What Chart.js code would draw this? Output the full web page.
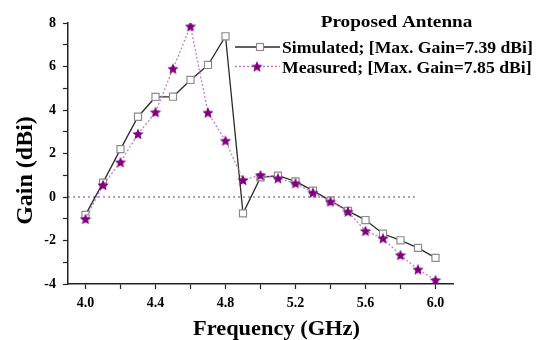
<!DOCTYPE html>
<html>
<head>
<meta charset="utf-8">
<script src="https://cdn.jsdelivr.net/npm/chart.js@4.4.1/dist/chart.umd.min.js"></script>
<style>
  html, body { margin: 0; padding: 0; background: #fff; }
  #wrap { width: 541px; height: 340px; }
</style>
</head>
<body>
<div id="wrap"><canvas id="gainChart" width="541" height="340"></canvas></div>
<script>
// Gain vs frequency, simulated and measured
const freqGHz = [4.0, 4.1, 4.2, 4.3, 4.4, 4.5, 4.6, 4.7, 4.8, 4.9, 5.0,
                 5.1, 5.2, 5.3, 5.4, 5.5, 5.6, 5.7, 5.8, 5.9, 6.0];
const simulatedGain = [-0.82, 0.66, 2.2, 3.69, 4.6, 4.61, 5.38, 6.07, 7.39, -0.75, 0.9,
                       0.98, 0.72, 0.29, -0.17, -0.64, -1.06, -1.69, -1.99, -2.34, -2.8];
const measuredGain = [-1.01, 0.55, 1.6, 2.9, 3.9, 5.9, 7.85, 3.88, 2.59, 0.78, 1.0,
                      0.86, 0.63, 0.2, -0.21, -0.67, -1.56, -1.9, -2.67, -3.33, -3.82];
const zeroLineX = [3.9, 5.9];
const xTicks = [4.0, 4.2, 4.4, 4.6, 4.8, 5.0, 5.2, 5.4, 5.6, 5.8, 6.0];
const yTicks = [-4, -3, -2, -1, 0, 1, 2, 3, 4, 5, 6, 7, 8];

const chartTitle = 'Proposed Antenna';
const seriesNames = ['Simulated; [Max. Gain=7.39 dBi]', 'Measured; [Max. Gain=7.85 dBi]'];
const xTitle = 'Frequency (GHz)';
const yTitle = 'Gain (dBi)';

const SERIF = "'Liberation Serif', 'Times New Roman', serif";
const AXIS_COLOR = '#222';

// filled five-pointed star used as point marker
function makeStar(size, color) {
  const c = document.createElement('canvas');
  c.width = c.height = size;
  const g = c.getContext('2d');
  const cx = size / 2, cy = size / 2 + 0.5, R = size / 2, r = R * 0.45;
  g.beginPath();
  for (let i = 0; i < 10; i++) {
    const rad = i % 2 ? r : R;
    const a = -Math.PI / 2 + i * Math.PI / 5;
    g.lineTo(cx + rad * Math.cos(a), cy + rad * Math.sin(a));
  }
  g.closePath();
  g.fillStyle = color;
  g.fill();
  return c;
}
const starImg = makeStar(12, '#800080');

const toPoints = (xs, ys) => xs.map((x, i) => ({ x: x, y: ys[i] }));

// bold serif text, squeezed/stretched sideways by sx
function drawText(ctx, text, x, y, size, sx, align) {
  ctx.save();
  ctx.font = 'bold ' + size + 'px ' + SERIF;
  ctx.textAlign = align;
  ctx.textBaseline = 'alphabetic';
  ctx.translate(x, y);
  ctx.scale(sx, 1);
  ctx.fillText(text, 0, 0);
  ctx.restore();
}

// title, legend and axis titles drawn by hand
const annotations = {
  id: 'annotations',
  afterDraw(chart) {
    const ctx = chart.ctx;
    const ds = chart.data.datasets;
    ctx.save();
    ctx.fillStyle = '#000';

    drawText(ctx, chartTitle, 396.5, 26.5, 16, 1.2, 'center');

    const lineY = [47, 66.5];
    const textY = [53, 72.5];
    const markX = [260, 257];
    [0, 1].forEach(i => {
      const d = ds[i];
      const y = lineY[i];
      ctx.save();
      ctx.strokeStyle = d.borderColor;
      ctx.lineWidth = d.borderWidth;
      ctx.setLineDash(d.borderDash || []);
      ctx.beginPath();
      ctx.moveTo(235, y);
      ctx.lineTo(280, y);
      ctx.stroke();
      ctx.restore();
      if (d.pointStyle === 'rect') {
        ctx.save();
        ctx.fillStyle = d.pointBackgroundColor;
        ctx.strokeStyle = d.pointBorderColor;
        ctx.lineWidth = d.pointBorderWidth;
        ctx.fillRect(markX[i] - 3.5, y - 3.5, 7, 7);
        ctx.strokeRect(markX[i] - 3.5, y - 3.5, 7, 7);
        ctx.restore();
      } else {
        ctx.drawImage(starImg, markX[i] - starImg.width / 2, y - starImg.height / 2);
      }
      drawText(ctx, seriesNames[i], 282, textY[i], 16.5, 1.07, 'left');
    });

    drawText(ctx, xTitle, 193, 335, 20, 1.12, 'left');

    ctx.save();
    ctx.font = 'bold 24px ' + SERIF;
    ctx.textAlign = 'center';
    ctx.textBaseline = 'alphabetic';
    ctx.translate(32, 170.5);
    ctx.rotate(-Math.PI / 2);
    ctx.fillText(yTitle, 0, 0);
    ctx.restore();

    ctx.restore();
  }
};

new Chart(document.getElementById('gainChart'), {
  type: 'line',
  data: {
    datasets: [
      {
        label: seriesNames[0],
        data: toPoints(freqGHz, simulatedGain),
        borderColor: '#2b2b2b',
        borderWidth: 1.3,
        pointStyle: 'rect',
        pointRadius: 5,
        pointBackgroundColor: '#fff',
        pointBorderColor: '#8c8c8c',
        pointBorderWidth: 1.2,
        order: 1
      },
      {
        label: seriesNames[1],
        data: toPoints(freqGHz, measuredGain),
        borderColor: '#c67cc6',
        borderWidth: 1.3,
        borderDash: [2, 2],
        pointStyle: starImg,
        order: 0
      },
      {
        label: 'zero',
        data: toPoints(zeroLineX, [0, 0]),
        borderColor: '#555',
        borderWidth: 1.2,
        borderDash: [2, 3],
        pointRadius: 0,
        order: 2
      }
    ]
  },
  options: {
    responsive: false,
    animation: false,
    layout: { padding: { left: 0, top: 23, right: 88, bottom: 0 } },
    plugins: {
      legend: { display: false },
      tooltip: { enabled: false }
    },
    scales: {
      x: {
        type: 'linear',
        min: 3.9,
        max: 6.1,
        afterBuildTicks: s => { s.ticks = xTicks.map(v => ({ value: v })); },
        afterFit: s => { s.height = 56; },
        ticks: {
          autoSkip: false,
          maxRotation: 0,
          padding: 6,
          color: '#000',
          font: { family: SERIF, size: 14, weight: 'bold' },
          callback: v => (Math.round(v * 10) % 4 === 0 ? v.toFixed(1) : '')
        },
        grid: { drawOnChartArea: false, tickLength: 5, tickColor: AXIS_COLOR, tickWidth: 1.2 },
        border: { display: true, color: AXIS_COLOR, width: 1.5 }
      },
      y: {
        min: -4,
        max: 8,
        afterBuildTicks: s => { s.ticks = yTicks.map(v => ({ value: v })); },
        afterFit: s => { s.width = 68; },
        ticks: {
          autoSkip: false,
          padding: 7,
          color: '#000',
          font: { family: SERIF, size: 14, weight: 'bold' },
          callback: v => (v % 2 === 0 ? String(v) : '')
        },
        grid: { drawOnChartArea: false, tickLength: 5, tickColor: AXIS_COLOR, tickWidth: 1.2 },
        border: { display: true, color: AXIS_COLOR, width: 1.5 }
      }
    }
  },
  plugins: [annotations]
});
</script>
</body>
</html>
